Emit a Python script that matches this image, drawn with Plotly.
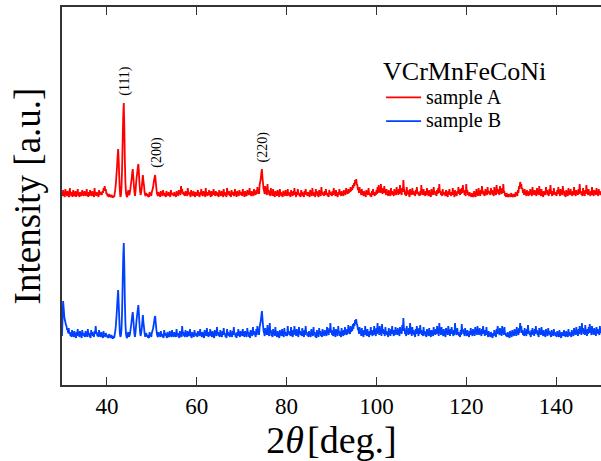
import numpy as np
import plotly.graph_objects as go

# Diffraction scans, 2theta from 30 to 150 deg in 0.125 deg steps (counts, a.u.)
ANGLE_START = 30.0
ANGLE_STEP = 0.125

sample_a = [
    3, 1, 7, 2, 2, 0, 8, 3, 4, 1, 6, 2, 1, 0, 9, 2, 3, 1, 5, 0, 7, 2, 2, 1, 6, 0, 4, 2, 8, 1, 3, 0, 5, 2, 2, 1, 7, 3, 4, 1,              # 30
    6, 2, 3, 1, 8, 2, 2, 0, 5, 1, 7, 3, 3, 1, 6, 2, 2, 0, 9, 3, 4, 1, 5, 2, 3, 0, 7, 2, 5, 3, 4, 2, 6, 4, 9, 6, 11, 7, 8, 3,             # 35
    4, 1, 2, 0, 3, 1, 1, 0, 2, 1, 0, 0, 1, 0, 4, 8, 14, 22, 30, 40, 48, 36, 20, 6, 0, 2, 10, 28, 55, 80, 94, 70, 35, 14, 4, 1, 0, 3, 7, 3,  # 40
    2, 5, 9, 14, 18, 24, 28, 20, 12, 5, 1, 6, 14, 20, 24, 30, 33, 24, 14, 6, 2, 5, 9, 16, 22, 16, 12, 5, 2, 1, 4, 2, 3, 1, 1, 0, 5, 2, 3, 1,  # 45
    5, 7, 9, 13, 17, 20, 22, 15, 9, 4, 2, 1, 5, 2, 2, 0, 6, 2, 3, 1, 7, 3, 4, 1, 2, 0, 6, 2, 3, 1, 5, 2, 2, 0, 7, 3, 4, 2, 3, 1,        # 50
    5, 1, 2, 0, 6, 2, 3, 1, 7, 3, 4, 2, 11, 6, 8, 3, 5, 2, 3, 1, 6, 2, 4, 1, 9, 3, 5, 2, 3, 0, 7, 2, 4, 1, 6, 3, 2, 0, 5, 2,            # 55
    4, 1, 7, 2, 3, 0, 5, 2, 8, 3, 2, 1, 6, 2, 4, 0, 9, 3, 3, 1, 5, 2, 7, 3, 2, 0, 6, 1, 4, 2, 8, 3, 3, 1, 6, 2, 5, 1, 2, 0,             # 60
    7, 2, 4, 1, 6, 3, 3, 0, 8, 2, 5, 1, 2, 0, 9, 3, 4, 2, 6, 1, 3, 0, 7, 2, 5, 3, 2, 1, 8, 2, 4, 0, 6, 2, 3, 1, 7, 3, 5, 2,             # 65
    3, 1, 8, 2, 4, 0, 6, 2, 2, 1, 7, 3, 5, 2, 9, 3, 3, 1, 6, 2, 4, 1, 8, 3, 5, 2, 7, 3, 10, 4, 6, 3, 12, 15, 18, 24, 28, 20, 14, 8,     # 70
    6, 3, 11, 4, 4, 2, 13, 5, 7, 2, 3, 1, 9, 3, 5, 1, 8, 2, 2, 0, 6, 2, 4, 1, 7, 3, 3, 0, 8, 2, 5, 1, 2, 0, 6, 2, 4, 1, 7, 2,           # 75
    3, 1, 8, 2, 5, 1, 2, 0, 7, 3, 4, 1, 6, 2, 9, 3, 3, 0, 5, 2, 8, 3, 4, 1, 2, 0, 7, 2, 5, 1, 3, 0, 6, 2, 8, 3, 4, 1, 5, 2,             # 80
    2, 0, 7, 3, 4, 1, 9, 2, 5, 1, 3, 0, 8, 3, 6, 2, 2, 0, 7, 2, 4, 1, 10, 3, 5, 2, 3, 1, 6, 2, 8, 3, 4, 1, 2, 0, 7, 3, 5, 2,            # 85
    3, 1, 6, 2, 9, 3, 4, 1, 7, 2, 2, 0, 5, 2, 8, 3, 4, 1, 6, 2, 3, 1, 7, 3, 5, 2, 9, 4, 6, 3, 8, 4, 7, 5, 10, 6, 9, 7, 12, 9,           # 90
    14, 11, 17, 14, 18, 13, 12, 7, 8, 4, 10, 4, 5, 2, 8, 3, 4, 1, 6, 2, 3, 0, 7, 3, 5, 2, 9, 3, 4, 1, 2, 0, 6, 2, 8, 3, 3, 1, 5, 2,     # 95
    7, 3, 10, 4, 12, 5, 8, 4, 13, 6, 6, 3, 9, 4, 11, 5, 5, 2, 8, 3, 4, 1, 7, 3, 3, 1, 9, 3, 6, 2, 4, 1, 8, 3, 5, 2, 10, 4, 6, 2,        # 100
    8, 3, 12, 4, 5, 2, 9, 5, 17, 8, 6, 2, 4, 1, 10, 3, 7, 2, 3, 0, 8, 3, 5, 2, 9, 3, 6, 2, 4, 1, 7, 3, 10, 4, 5, 2, 3, 1, 6, 2,         # 105
    12, 4, 5, 2, 8, 3, 3, 1, 6, 2, 9, 3, 4, 1, 7, 2, 2, 0, 8, 3, 5, 2, 10, 4, 6, 2, 3, 1, 7, 3, 9, 4, 13, 5, 6, 2, 4, 1, 8, 3,          # 110
    5, 2, 3, 1, 7, 2, 2, 0, 6, 2, 8, 3, 4, 1, 5, 2, 9, 3, 3, 0, 7, 2, 4, 1, 6, 3, 10, 4, 5, 2, 8, 3, 9, 4, 12, 5, 7, 2, 4, 1,           # 115
    13, 5, 7, 2, 3, 1, 5, 1, 2, 0, 4, 1, 1, 0, 6, 2, 3, 0, 8, 2, 5, 1, 9, 3, 4, 1, 7, 3, 11, 4, 6, 2, 3, 1, 8, 3, 5, 2, 10, 4,          # 120
    6, 3, 4, 2, 9, 4, 7, 3, 3, 1, 10, 4, 5, 2, 12, 5, 8, 3, 4, 2, 11, 5, 6, 3, 9, 4, 13, 5, 5, 2, 2, 0, 4, 1, 1, 0, 3, 1, 2, 0,         # 125
    4, 1, 1, 0, 3, 1, 2, 0, 5, 2, 3, 1, 7, 4, 11, 8, 15, 12, 13, 8, 9, 4, 6, 2, 8, 3, 4, 1, 7, 2, 3, 1, 6, 2, 8, 3, 4, 1, 10, 4,        # 130
    5, 2, 7, 3, 3, 1, 9, 3, 6, 2, 11, 4, 4, 1, 8, 3, 2, 0, 6, 2, 5, 2, 10, 4, 7, 3, 3, 1, 8, 3, 12, 5, 4, 1, 6, 2, 9, 3, 5, 2,          # 135
    3, 1, 7, 3, 10, 4, 4, 1, 8, 3, 5, 2, 11, 4, 6, 2, 2, 0, 7, 3, 4, 1, 9, 3, 5, 2, 8, 3, 3, 1, 6, 2, 10, 4, 4, 1, 7, 3, 5, 2,          # 140
    8, 3, 13, 5, 6, 2, 4, 1, 9, 3, 3, 1, 7, 3, 12, 5, 5, 2, 8, 3, 4, 1, 6, 2, 10, 4, 3, 1, 7, 3, 5, 2, 9, 3, 4, 1, 8, 3, 6, 2,          # 145
    5,                                                                                                                                   # 150
]

sample_b = [
    2, 20, 37, 30, 22, 18, 16, 13, 12, 8, 9, 5, 10, 4, 6, 2, 4, 1, 8, 3, 3, 1, 7, 2, 2, 0, 6, 2, 9, 3, 4, 1, 7, 3, 3, 0, 8, 3, 5, 2,    # 30
    3, 1, 7, 2, 4, 1, 9, 3, 5, 2, 2, 0, 8, 3, 6, 2, 3, 1, 7, 4, 12, 5, 5, 2, 4, 1, 8, 3, 3, 1, 6, 2, 2, 0, 7, 2, 4, 1, 5, 2,            # 35
    3, 1, 1, 0, 4, 1, 2, 0, 3, 1, 0, 0, 2, 0, 4, 7, 13, 21, 30, 40, 48, 34, 19, 5, 1, 3, 9, 26, 54, 80, 95, 72, 36, 14, 4, 1, 0, 3, 6, 2,  # 40
    2, 4, 8, 12, 17, 22, 26, 19, 11, 4, 1, 6, 13, 19, 24, 29, 33, 24, 14, 6, 2, 5, 9, 16, 23, 16, 11, 5, 2, 2, 5, 2, 3, 1, 1, 0, 6, 2, 3, 1,  # 45
    5, 7, 9, 12, 16, 20, 22, 15, 9, 4, 2, 1, 6, 2, 3, 1, 7, 3, 4, 1, 2, 0, 8, 3, 5, 2, 3, 0, 6, 2, 2, 1, 7, 3, 4, 1, 8, 3, 3, 1,        # 50
    6, 2, 4, 1, 9, 3, 5, 2, 2, 0, 7, 3, 3, 1, 12, 5, 6, 2, 4, 1, 8, 3, 3, 1, 7, 2, 5, 2, 9, 3, 2, 0, 6, 2, 4, 1, 8, 3, 5, 2,            # 55
    3, 1, 7, 3, 5, 2, 9, 4, 4, 1, 6, 2, 2, 0, 8, 3, 5, 2, 10, 4, 3, 1, 6, 2, 9, 3, 4, 1, 7, 3, 2, 0, 8, 3, 5, 2, 11, 4, 6, 2,           # 60
    4, 1, 8, 3, 3, 1, 7, 3, 10, 4, 5, 2, 2, 0, 9, 3, 6, 2, 4, 1, 8, 3, 3, 1, 7, 3, 11, 4, 5, 2, 2, 0, 6, 2, 9, 4, 4, 1, 7, 3,           # 65
    5, 2, 9, 3, 3, 1, 7, 3, 4, 1, 10, 4, 6, 2, 2, 0, 8, 3, 5, 2, 11, 4, 7, 3, 4, 1, 9, 3, 12, 5, 7, 3, 11, 14, 17, 22, 27, 20, 13, 7,   # 70
    5, 2, 10, 4, 7, 3, 13, 5, 4, 2, 15, 6, 8, 3, 3, 1, 9, 4, 6, 2, 11, 4, 4, 1, 7, 3, 2, 0, 8, 3, 5, 2, 9, 4, 3, 1, 10, 4, 6, 2,        # 75
    4, 2, 12, 5, 7, 3, 5, 2, 11, 4, 3, 1, 8, 3, 12, 5, 6, 2, 9, 4, 4, 1, 11, 5, 7, 3, 5, 2, 10, 4, 3, 1, 8, 3, 12, 5, 6, 2, 4, 1,       # 80
    7, 3, 3, 1, 9, 4, 5, 2, 11, 4, 6, 2, 2, 0, 8, 3, 4, 1, 10, 4, 7, 3, 3, 1, 9, 4, 5, 2, 8, 3, 4, 2, 11, 5, 6, 3, 10, 5, 15, 6,        # 85
    8, 3, 5, 2, 11, 4, 4, 1, 9, 4, 6, 2, 12, 5, 7, 3, 3, 1, 10, 4, 5, 2, 8, 3, 11, 5, 6, 3, 9, 4, 13, 6, 7, 4, 12, 6, 10, 7, 14, 9,     # 90
    15, 12, 18, 14, 19, 14, 13, 8, 9, 4, 11, 5, 6, 2, 10, 4, 4, 1, 8, 3, 12, 5, 5, 2, 9, 4, 3, 1, 7, 3, 11, 4, 5, 2, 8, 3, 12, 5, 6, 2,  # 95
    10, 4, 15, 6, 8, 3, 12, 5, 6, 2, 14, 5, 9, 4, 5, 2, 11, 4, 7, 3, 4, 1, 10, 4, 6, 2, 9, 4, 12, 5, 5, 2, 8, 3, 11, 5, 7, 3, 10, 4,    # 100
    6, 2, 11, 5, 8, 4, 13, 7, 20, 9, 9, 4, 5, 2, 12, 5, 7, 3, 10, 4, 15, 6, 6, 2, 11, 4, 8, 3, 4, 1, 9, 4, 12, 5, 6, 2, 10, 4, 13, 5,   # 105
    8, 3, 5, 2, 11, 4, 7, 3, 3, 1, 9, 4, 6, 2, 10, 4, 4, 1, 8, 3, 5, 2, 11, 4, 7, 3, 9, 4, 12, 5, 6, 2, 15, 6, 8, 3, 11, 4, 5, 2,       # 110
    9, 4, 4, 1, 10, 4, 7, 3, 12, 5, 6, 2, 9, 4, 11, 5, 5, 2, 8, 3, 15, 6, 7, 3, 10, 4, 6, 2, 4, 1, 8, 3, 14, 6, 9, 4, 6, 2, 10, 4,      # 115
    5, 2, 8, 3, 3, 1, 7, 3, 10, 4, 5, 2, 9, 4, 6, 2, 11, 5, 8, 3, 12, 5, 7, 3, 10, 4, 5, 2, 9, 4, 12, 5, 6, 2, 8, 3, 11, 4, 4, 1,       # 120
    7, 2, 3, 1, 6, 2, 2, 0, 5, 2, 8, 3, 4, 1, 9, 4, 12, 5, 7, 3, 10, 4, 6, 2, 12, 5, 8, 3, 11, 4, 5, 2, 3, 1, 6, 2, 2, 0, 7, 3,         # 125
    4, 1, 8, 3, 5, 2, 9, 4, 6, 2, 11, 4, 7, 3, 10, 5, 15, 8, 12, 5, 8, 3, 6, 2, 10, 4, 5, 2, 9, 4, 13, 5, 7, 3, 4, 1, 8, 3, 10, 4,      # 130
    6, 2, 9, 4, 12, 5, 8, 3, 4, 1, 10, 4, 7, 3, 11, 4, 5, 2, 8, 3, 3, 1, 9, 4, 6, 2, 10, 4, 7, 3, 4, 1, 8, 3, 5, 2, 9, 4, 6, 2,         # 135
    3, 1, 7, 3, 4, 1, 8, 3, 2, 0, 6, 2, 5, 2, 8, 3, 3, 1, 7, 3, 4, 1, 9, 3, 6, 2, 3, 1, 8, 3, 5, 2, 10, 4, 7, 3, 11, 4, 6, 2,           # 140
    9, 4, 12, 5, 7, 3, 15, 6, 10, 4, 8, 3, 13, 5, 6, 2, 9, 4, 11, 5, 14, 6, 7, 3, 12, 5, 8, 3, 10, 4, 6, 2, 11, 5, 9, 4, 7, 3, 12, 5,   # 145
    8,                                                                                                                                   # 150
]

# vertical offsets used to stack the two patterns
offset_a = 188
offset_b = 47

series_names = ["sample A", "sample B"]
series_colors = ["#ff0000", "#0040ff"]

# Miller indices and the 2theta windows in which their reflections lie
hkl_labels = ["(111)", "(200)", "(220)"]
hkl_windows = [(43.0, 44.5), (50.0, 51.5), (73.5, 75.5)]
x_ticks = [40, 60, 80, 100, 120, 140]

SERIF = "Liberation Serif"

def angles(values):
    return ANGLE_START + ANGLE_STEP * np.arange(len(values))

ya = np.array(sample_a) + offset_a
yb = np.array(sample_b) + offset_b
xa = angles(sample_a)
xb = angles(sample_b)

fig = go.Figure()
for x, y, name, color in [(xa, ya, series_names[0], series_colors[0]),
                          (xb, yb, series_names[1], series_colors[1])]:
    fig.add_trace(go.Scatter(
        x=x, y=y, mode="lines",
        name=f'<span style="font-size:20px">{name}</span>',
        line=dict(color=color, width=1.8, simplify=False)))

# peak indices over sample A
for label, (lo, hi) in zip(hkl_labels, hkl_windows):
    mask = (xa >= lo) & (xa <= hi)
    i = np.argmax(np.where(mask, ya, -1))
    fig.add_annotation(x=xa[i], y=ya[i], text=label, textangle=-90,
                       showarrow=False, xanchor="center", yanchor="bottom",
                       yshift=5, xshift=1,
                       font=dict(family=SERIF, size=14, color="black"))

fig.update_layout(
    width=601, height=461,
    margin=dict(l=62, r=0, t=7, b=76),
    plot_bgcolor="white", paper_bgcolor="white",
    font=dict(family=SERIF, color="black"),
    legend=dict(
        x=0.592, y=0.895, xanchor="left", yanchor="top",
        bgcolor="rgba(0,0,0,0)",
        title=dict(text="VCrMnFeCoNi", side="top",
                   font=dict(family=SERIF, size=26)),
        font=dict(family=SERIF, size=16),
        tracegroupgap=0, itemwidth=35,
    ),
    showlegend=True,
)

fig.update_xaxes(
    range=[30, 150], tickvals=x_ticks, ticks="inside", ticklen=8,
    tickwidth=1.2, tickcolor="#333", showline=True, linecolor="#333",
    linewidth=1.5, mirror="ticks", showgrid=False, zeroline=False,
    tickfont=dict(family=SERIF, size=23),
    title=dict(text="2<i>θ</i>\u200a[deg.]", font=dict(family=SERIF, size=38),
               standoff=8),
)
fig.update_yaxes(
    range=[0, 378], showticklabels=False, ticks="", showline=True,
    linecolor="#333", linewidth=1.5, showgrid=False, zeroline=False,
    title=dict(text="Intensity [a.u.]", font=dict(family=SERIF, size=37),
               standoff=8),
)

fig.write_html("out.html")
